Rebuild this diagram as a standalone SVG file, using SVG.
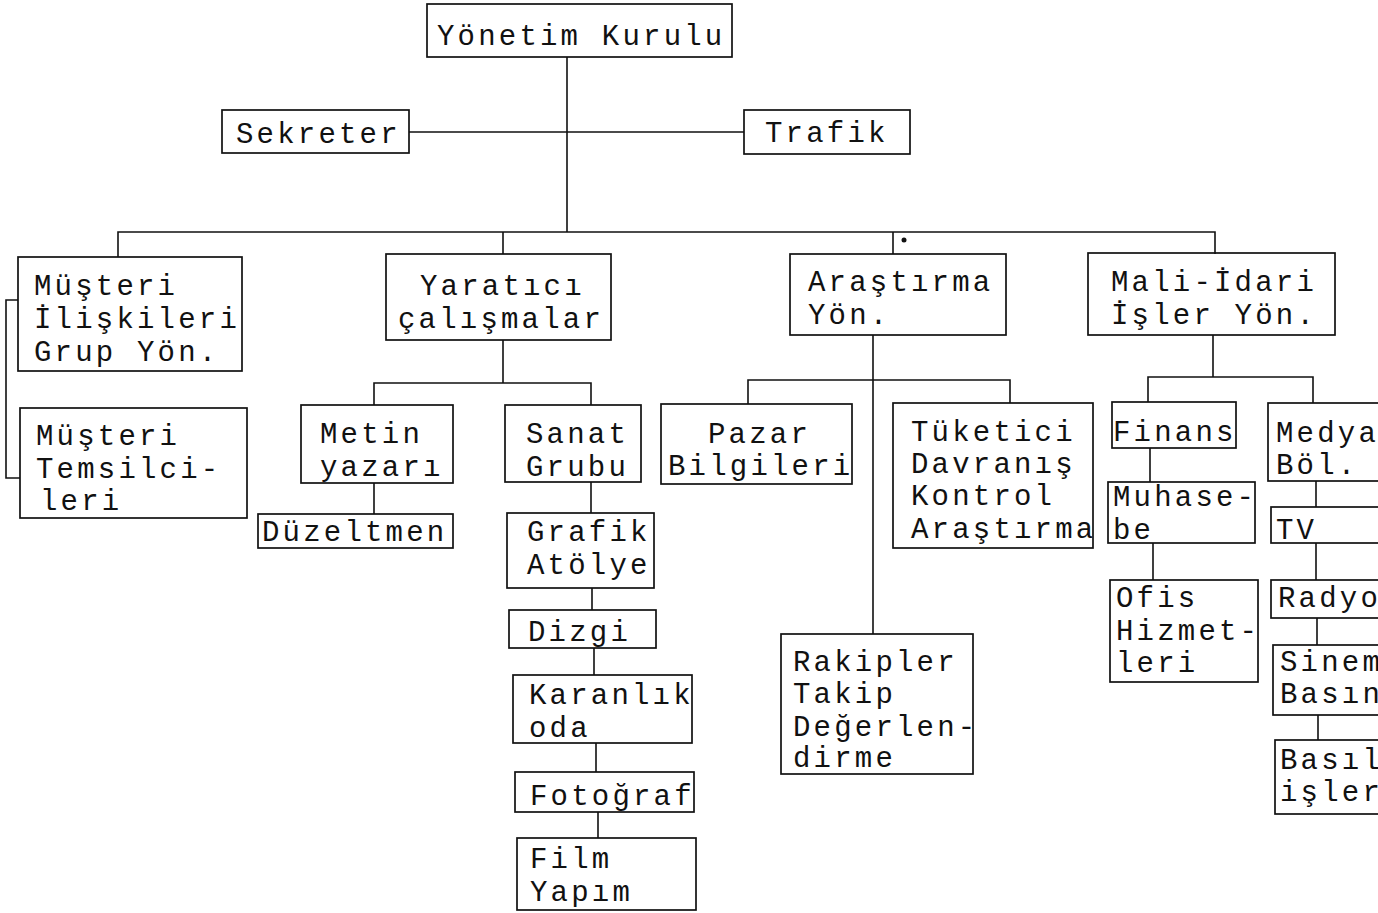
<svg xmlns="http://www.w3.org/2000/svg" width="1378" height="913" viewBox="0 0 1378 913">
<style>
rect.b{fill:none;stroke:#111;stroke-width:1.7}
text{font-family:"Liberation Mono","DejaVu Sans Mono",monospace;font-size:29px;fill:#111;letter-spacing:3.2px}
#connectors path{fill:none;stroke:#111;stroke-width:1.6}
</style>
<rect width="1378" height="913" fill="#fff"/>
<g id="connectors">
<path d="M567 57V232M409 132H744"/>
<path d="M118 257V232H1215V254M503 232V254M893 232V254"/>
<path d="M18 300H6V478H20"/>
<path d="M503 340V383M374 405V383H591V405"/>
<path d="M374 483V514M591 482V513M592 588V610M594 648V675M596 743V772M598 812V838"/>
<path d="M873 335V634M748 404V380H1010V403"/>
<path d="M1213 335V377M1148 402V377H1313V403"/>
<path d="M1150 448V482M1153 543V580"/>
<path d="M1316 481V507M1316 543V580M1317 618V645M1318 715V740"/>
</g>
<circle cx="904" cy="240" r="2.5" fill="#111"/>
<g id="yonetim"><rect class="b" x="427" y="4" width="305" height="53"/><text x="437" y="45">Yönetim Kurulu</text></g>
<g id="sekreter"><rect class="b" x="222" y="110" width="187" height="43"/><text x="236" y="143">Sekreter</text></g>
<g id="trafik"><rect class="b" x="744" y="110" width="166" height="44"/><text x="765" y="142">Trafik</text></g>
<g id="musteri-iliskileri"><rect class="b" x="18" y="257" width="224" height="114"/><text x="34" y="295">Müşteri</text><text x="34" y="328">İlişkileri</text><text x="34" y="361">Grup Yön.</text></g>
<g id="musteri-temsilcileri"><rect class="b" x="20" y="408" width="227" height="110"/><text x="36" y="445">Müşteri</text><text x="36" y="478">Temsilci-</text><text x="40" y="510">leri</text></g>
<g id="yaratici"><rect class="b" x="386" y="254" width="225" height="86"/><text x="420" y="295">Yaratıcı</text><text x="398" y="328">çalışmalar</text></g>
<g id="metin"><rect class="b" x="301" y="405" width="152" height="78"/><text x="320" y="443">Metin</text><text x="320" y="476">yazarı</text></g>
<g id="duzeltmen"><rect class="b" x="258" y="514" width="195" height="34"/><text x="262" y="541">Düzeltmen</text></g>
<g id="sanat"><rect class="b" x="505" y="405" width="136" height="77"/><text x="526" y="443">Sanat</text><text x="526" y="476">Grubu</text></g>
<g id="grafik"><rect class="b" x="507" y="513" width="147" height="75"/><text x="527" y="541">Grafik</text><text x="527" y="574">Atölye</text></g>
<g id="dizgi"><rect class="b" x="509" y="610" width="147" height="38"/><text x="528" y="641">Dizgi</text></g>
<g id="karanlik"><rect class="b" x="513" y="675" width="179" height="68"/><text x="529" y="704">Karanlık</text><text x="529" y="737">oda</text></g>
<g id="fotograf"><rect class="b" x="515" y="772" width="179" height="40"/><text x="530" y="805">Fotoğraf</text></g>
<g id="film"><rect class="b" x="517" y="838" width="179" height="72"/><text x="530" y="868">Film</text><text x="530" y="901">Yapım</text></g>
<g id="arastirma"><rect class="b" x="790" y="254" width="216" height="81"/><text x="808" y="291">Araştırma</text><text x="808" y="324">Yön.</text></g>
<g id="pazar"><rect class="b" x="661" y="404" width="191" height="80"/><text x="708" y="443">Pazar</text><text x="668" y="475">Bilgileri</text></g>
<g id="tuketici"><rect class="b" x="893" y="403" width="200" height="145"/><text x="911" y="441">Tüketici</text><text x="911" y="473">Davranış</text><text x="911" y="505">Kontrol</text><text x="911" y="538">Araştırma</text></g>
<g id="rakipler"><rect class="b" x="781" y="634" width="192" height="140"/><text x="793" y="671">Rakipler</text><text x="793" y="703">Takip</text><text x="793" y="736">Değerlen-</text><text x="793" y="767">dirme</text></g>
<g id="mali"><rect class="b" x="1088" y="253" width="247" height="82"/><text x="1111" y="291">Mali-İdari</text><text x="1111" y="324">İşler Yön.</text></g>
<g id="finans"><rect class="b" x="1112" y="402" width="124" height="46"/><text x="1113" y="441">Finans</text></g>
<g id="muhasebe"><rect class="b" x="1108" y="482" width="147" height="61"/><text x="1113" y="506">Muhase-</text><text x="1113" y="539">be</text></g>
<g id="ofis"><rect class="b" x="1110" y="580" width="148" height="102"/><text x="1116" y="607">Ofis</text><text x="1116" y="640">Hizmet-</text><text x="1116" y="672">leri</text></g>
<g id="medya"><rect class="b" x="1268" y="403" width="120" height="78"/><text x="1276" y="442">Medya</text><text x="1276" y="474">Böl.</text></g>
<g id="tv"><rect class="b" x="1271" y="507" width="117" height="36"/><text x="1276" y="539">TV</text></g>
<g id="radyo"><rect class="b" x="1271" y="580" width="117" height="38"/><text x="1278" y="607">Radyo</text></g>
<g id="sinema"><rect class="b" x="1273" y="645" width="115" height="70"/><text x="1280" y="671">Sinema</text><text x="1280" y="703">Basın</text></g>
<g id="basili"><rect class="b" x="1275" y="740" width="113" height="74"/><text x="1280" y="769">Basılı</text><text x="1280" y="801">işler</text></g>
</svg>
